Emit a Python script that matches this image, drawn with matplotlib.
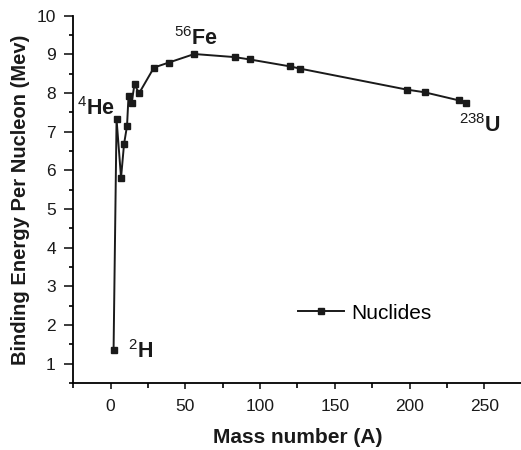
import matplotlib
matplotlib.use('Agg')
import matplotlib.pyplot as plt
from matplotlib.ticker import MultipleLocator

# Datos (numero masico, energia de enlace por nucleon)
masa = [2, 4, 7, 9, 11, 12, 14, 16, 19, 29, 39, 56, 83, 93, 120, 127, 198, 210, 233, 238]
energia = [1.36, 7.32, 5.81, 6.68, 7.15, 7.93, 7.73, 8.23, 7.99, 8.66, 8.79, 9.01,
           8.93, 8.87, 8.69, 8.63, 8.09, 8.02, 7.81, 7.73]

# Etiquetas de nuclidos: (indice del punto, isotopo, elemento, desplazamiento en px, alineacion)
etiquetas = [
    (0, '2', 'H', (14, -8), 'left'),
    (1, '4', 'He', (-2, 4), 'right'),
    (11, '56', 'Fe', (-20, 9), 'left'),
    (19, '238', 'U', (-7, -29), 'left'),
]

plt.rcParams['font.family'] = ['Liberation Sans', 'DejaVu Sans']
plt.rcParams['mathtext.fontset'] = 'custom'
plt.rcParams['mathtext.rm'] = 'Liberation Sans'
plt.rcParams['mathtext.it'] = 'Liberation Sans'
plt.rcParams['mathtext.bf'] = 'Liberation Sans:bold'

fig = plt.figure(figsize=(5.21, 4.5), dpi=100)
ax = fig.add_axes([0.1405, 0.149, 0.861, 0.816])

ax.plot(masa, energia, color='#1a1a1a', linewidth=1.4, marker='s', markersize=5,
        label='Nuclides', clip_on=False)

for i, iso, elem, off, ha in etiquetas:
    ax.annotate(r'$^{%s}\mathbf{%s}$' % (iso, elem), xy=(masa[i], energia[i]),
                xytext=off, textcoords='offset pixels', ha=ha, va='baseline',
                fontsize=15.5, color='#1a1a1a')

ax.set_xlim(-25, 275)
ax.set_ylim(0.5, 10)
ax.xaxis.set_major_locator(MultipleLocator(50))
ax.xaxis.set_minor_locator(MultipleLocator(25))
ax.yaxis.set_major_locator(MultipleLocator(1))
ax.yaxis.set_minor_locator(MultipleLocator(0.5))

ax.spines[['top', 'right']].set_visible(False)
ax.spines[['left', 'bottom']].set_linewidth(1.3)
ax.tick_params(axis='x', which='major', length=4.5, width=1.2, pad=7, labelsize=12.5, colors='#1a1a1a')
ax.tick_params(axis='x', which='minor', length=3.5, width=1.2)
ax.tick_params(axis='y', which='major', length=6.5, width=1.2, pad=6, labelsize=12.5, colors='#1a1a1a')
ax.tick_params(axis='y', which='minor', length=3, width=1.2)

ax.set_xlabel('Mass number (A)', fontsize=15, fontweight='bold', labelpad=10, color='#1a1a1a')
ax.set_ylabel('Binding Energy Per Nucleon (Mev)', fontsize=14.5, fontweight='bold', labelpad=5, color='#1a1a1a')

ax.legend(loc='center left', bbox_to_anchor=(0.502, 0.19), frameon=False, fontsize=15,
          borderpad=0, borderaxespad=0, handlelength=2.2, handletextpad=0.35)

fig.savefig('out.png', dpi=100)
